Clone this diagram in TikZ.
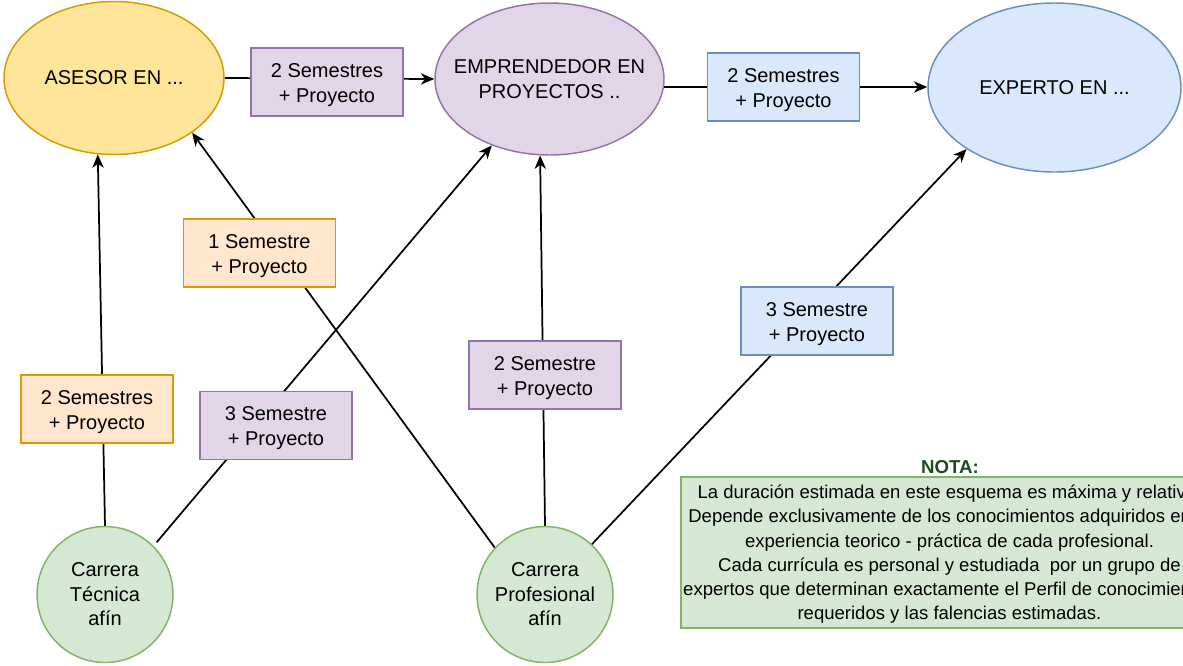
\documentclass[tikz,border=0pt]{standalone}
\usepackage{fontspec}
\setmainfont{Liberation Sans}
\usetikzlibrary{arrows.meta,shapes.geometric,backgrounds}
\definecolor{yelF}{HTML}{FFE599}
\definecolor{orS}{HTML}{D79B00}
\definecolor{orF}{HTML}{FFE6CC}
\definecolor{puF}{HTML}{E1D5E7}
\definecolor{puS}{HTML}{9673A6}
\definecolor{blF}{HTML}{DAE8FC}
\definecolor{blS}{HTML}{6C8EBF}
\definecolor{grF}{HTML}{D5E8D4}
\definecolor{grS}{HTML}{82B366}
\definecolor{notaC}{HTML}{1A4D1A}
\newcommand{\topstrut}{\rule{0pt}{15pt}}
\tikzset{
  every node/.style={font=\fontsize{15pt}{18.75pt}\selectfont, align=center, line width=1.1pt, inner sep=0pt},
  oval/.style={ellipse, draw},
  stepbox/.style={rectangle, draw, minimum width=114pt, minimum height=51pt},
  carrera/.style={circle, draw=grS, fill=grF, minimum size=102pt},
  conn/.style={line width=1.3pt, draw=black},
  arr/.style={conn, -{Stealth[length=10pt,width=8.5pt,inset=3pt]}},
}
\begin{document}
\begin{tikzpicture}[x=0.75pt,y=-0.75pt]
\clip (0,0) rectangle (1183,665);
% main ellipses
\node[oval, draw=orS, fill=yelF, minimum width=165pt, minimum height=114.75pt] (ases) at (114,78) {};
\node (asesT) at (ases) {ASESOR EN ...};
\node[oval, draw=puS, fill=puF, minimum width=171.75pt, minimum height=114pt] (emp) at (549.5,79) {};
\node (empT) at (emp) {EMPRENDEDOR EN\\PROYECTOS ..};
\node[oval, draw=blS, fill=blF, minimum width=189.75pt, minimum height=126.75pt] (exp) at (1054.5,87.5) {};
\node (expT) at (exp) {EXPERTO EN ...};
% step boxes
\node[stepbox, draw=puS, fill=puF] (b1) at (327,82) {\topstrut2 Semestres\\ + Proyecto};
\node[stepbox, draw=blS, fill=blF] (b2) at (783.5,87) {\topstrut2 Semestres\\ + Proyecto};
\node[stepbox, draw=orS, fill=orF] (b3) at (259.5,253) {\topstrut1 Semestre\\ + Proyecto};
\node[stepbox, draw=orS, fill=orF] (b4) at (97,409) {\topstrut2 Semestres\\ + Proyecto};
\node[stepbox, draw=puS, fill=puF] (b5) at (276,425.5) {\topstrut3 Semestre\\ + Proyecto};
\node[stepbox, draw=puS, fill=puF] (b6) at (545,375) {\topstrut2 Semestre\\ + Proyecto};
\node[stepbox, draw=blS, fill=blF] (b7) at (817,321) {\topstrut3 Semestre\\ + Proyecto};
% origins
\node[carrera, font=\fontsize{15pt}{18.4pt}\selectfont] (tec) at (105,594.5) {Carrera\\Técnica\\afín};
\node[carrera, font=\fontsize{15pt}{18.4pt}\selectfont] (prof) at (545,594.5) {Carrera\\Profesional\\afín};
% note
\node[font=\bfseries\fontsize{14pt}{16pt}\selectfont, text=notaC] (nota) at (950,467) {NOTA:};
\node[rectangle, draw=grS, fill=grF, minimum width=402.75pt, minimum height=113.25pt,
      font=\fontsize{13.9pt}{18.2pt}\selectfont] (note) at (949.5,552.5)
  {\rule{0pt}{13pt}La duración estimada en este esquema es máxima y relativa.\\
   Depende exclusivamente de los conocimientos adquiridos en la\\
   experiencia teorico - práctica de cada profesional.\\
   Cada currícula es personal y estudiada \ por un grupo de\\
   expertos que determinan exactamente el Perfil de conocimientos\\
   requeridos y las falencias estimadas.};
% connectors
\begin{pgfonlayer}{background}
\draw[arr] (ases.east) -- (emp.west);
\draw[arr] (emp.-4) -- (emp.-4 -| exp.west);
\draw[arr] (tec.north) -- (ases.-102);
\draw[arr, shorten <=3.5pt] (tec.45) -- (emp.-131);
\draw[arr] (prof.137) -- (ases.-35);
\draw[arr] (prof.north) -- (emp.-97.5);
\draw[arr] (prof.47) -- (exp.-145.6);
\end{pgfonlayer}
\end{tikzpicture}
\end{document}
